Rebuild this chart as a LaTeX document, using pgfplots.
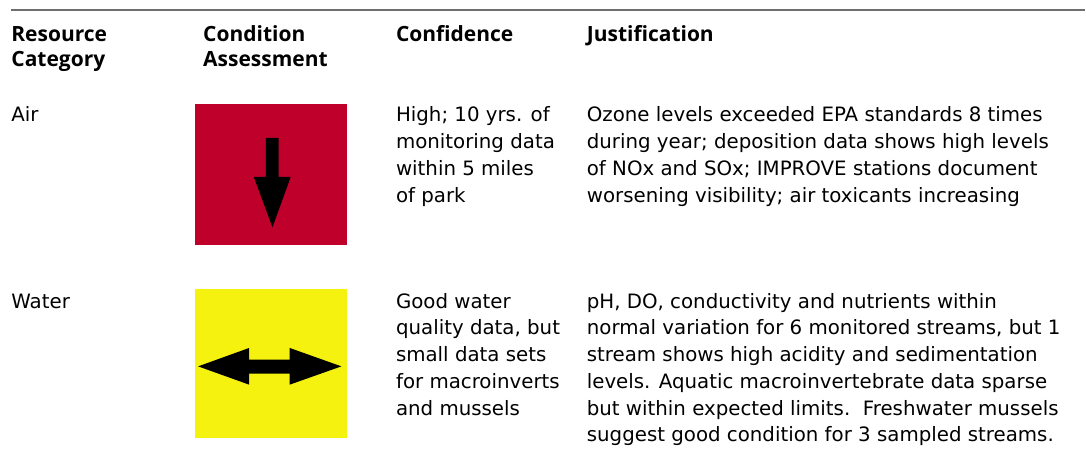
\documentclass[border=0pt]{standalone}
\usepackage{pgfplots}
\pgfplotsset{compat=1.18}
\usepackage{fontspec}
\setmainfont{Open Sans}
\newfontfamily\bodyfam{DejaVu Sans}
\definecolor{airred}{RGB}{190,0,42}
\definecolor{wateryellow}{RGB}{246,242,16}
\definecolor{rulegray}{RGB}{110,110,110}
\newcommand{\bodyfont}{\bodyfam\fontsize{9.9}{13}\selectfont}
\newcommand{\headfont}{\fontsize{10.5}{12.5}\selectfont\bfseries}
\begin{document}
\begin{tikzpicture}
\begin{axis}[
  scale only axis, width=543pt, height=232pt,
  xmin=0, xmax=1086, ymin=0, ymax=464, y dir=reverse,
  hide axis, clip=false,
]
% invisible frame
\addplot[draw=none, forget plot] coordinates {(0,0) (1086,464)};
% top rule
\addplot[rulegray, line width=1pt] coordinates {(11,10) (1086,10)};
% red square + down arrow
\addplot[fill=airred, draw=none] coordinates {(195,104) (347,104) (347,245) (195,245)} -- cycle;
\addplot[fill=black, draw=none] coordinates {(266,138) (279,138) (279,177) (291,177) (272.7,227.5) (254,177) (266,177)} -- cycle;
% yellow square + double arrow
\addplot[fill=wateryellow, draw=none] coordinates {(195,289.5) (347,289.5) (347,438.7) (195,438.7)} -- cycle;
\addplot[fill=black, draw=none] coordinates {(198.3,366.7) (249.3,348.3) (249.3,360) (290,360) (290,348.3) (341.7,366.7) (290,385) (290,374) (249.3,374) (249.3,385)} -- cycle;
% headers
\begin{scope}[every node/.style={anchor=base west, inner sep=0pt, font=\headfont}]
\node at (axis cs:11,41.7) {Resource};
\node at (axis cs:11,66.7) {Category};
\node at (axis cs:203,41.7) {Condition};
\node at (axis cs:203,66.7) {Assessment};
\node at (axis cs:396,41.7) {Confidence};
\node at (axis cs:587,41.7) {Justification};
\end{scope}
\begin{scope}[every node/.style={anchor=base west, inner sep=0pt, font=\bodyfont}]
\node at (axis cs:11,121.7) {Air};
\node at (axis cs:396,121.7) {High; 10 yrs. of};
\node at (axis cs:396,148.7) {monitoring data};
\node at (axis cs:396,175.7) {within 5 miles};
\node at (axis cs:396,202.7) {of park};
\node at (axis cs:587,121.7) {Ozone levels exceeded EPA standards 8 times};
\node at (axis cs:587,148.7) {during year; deposition data shows high levels};
\node at (axis cs:587,175.7) {of NOx and SOx; IMPROVE stations document};
\node at (axis cs:587,202.7) {worsening visibility; air toxicants increasing};
\node at (axis cs:11,308.3) {Water};
\node at (axis cs:396,308.3) {Good water};
\node at (axis cs:396,335.1) {quality data, but};
\node at (axis cs:396,361.9) {small data sets};
\node at (axis cs:396,388.7) {for macroinverts};
\node at (axis cs:396,415.5) {and mussels};
\node at (axis cs:587,308.3) {pH, DO, conductivity and nutrients within};
\node at (axis cs:587,335.1) {normal variation for 6 monitored streams, but 1};
\node at (axis cs:587,361.9) {stream shows high acidity and sedimentation};
\node at (axis cs:587,388.7) {levels. Aquatic macroinvertebrate data sparse};
\node at (axis cs:587,415.5) {but within expected limits.\ \ Freshwater mussels};
\node at (axis cs:587,442.3) {suggest good condition for 3 sampled streams.};
\end{scope}
\end{axis}
\end{tikzpicture}
\end{document}
